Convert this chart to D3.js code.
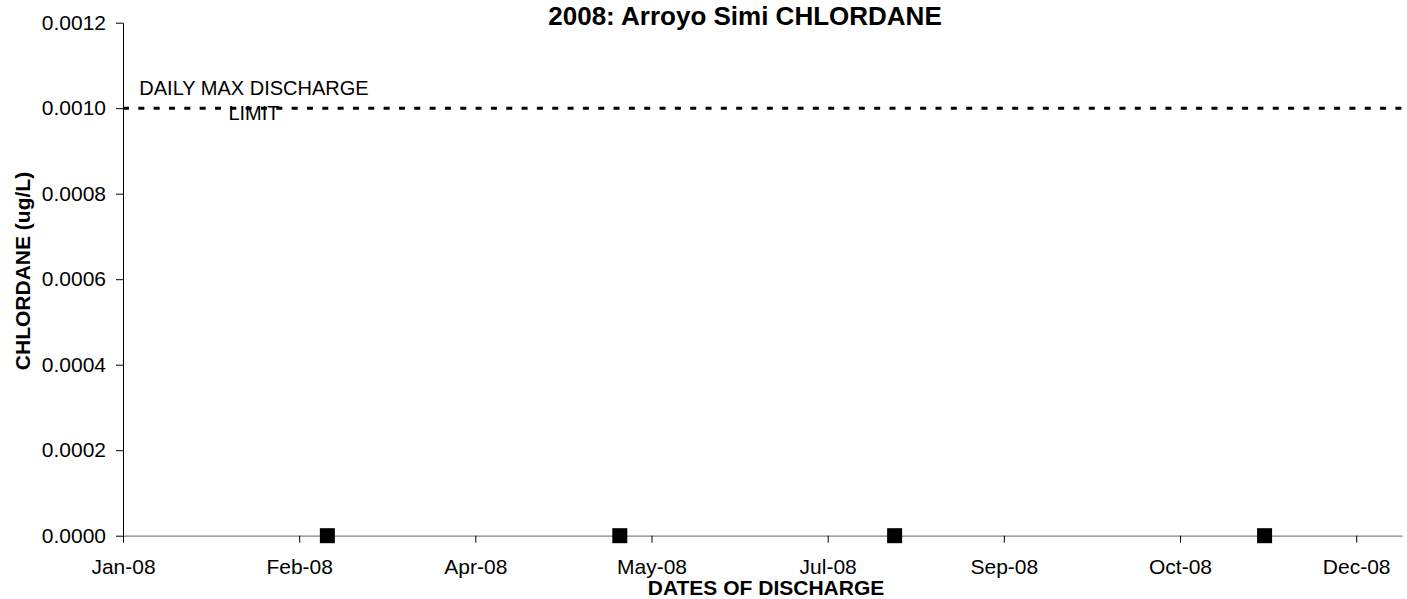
<!DOCTYPE html>
<html>
<head>
<meta charset="utf-8">
<script src="https://cdn.jsdelivr.net/npm/d3@7"></script>
<style>
  html, body { margin: 0; padding: 0; background: #fff; }
  svg { display: block; font-family: "Liberation Sans", Arial, sans-serif; }
</style>
</head>
<body>
<svg id="chart" width="1407" height="599"></svg>
<script>
// ---- data ----
const sampleDates = ["2008-02-28", "2008-05-21", "2008-08-07", "2008-11-20"];
const chlordaneValues = [0, 0, 0, 0];
const limitValue = 0.001;
const yTickValues = [0, 0.0002, 0.0004, 0.0006, 0.0008, 0.0010, 0.0012];
const xTickLabels = ["Jan-08", "Feb-08", "Apr-08", "May-08", "Jul-08", "Sep-08", "Oct-08", "Dec-08"];
const xStart = "2008-01-01";
const xEnd = "2008-12-29";
const tickStepDays = 50;

const parse = d3.timeParse("%Y-%m-%d");
const svg = d3.select("#chart");

const plotLeft = 123, plotRight = 1402, plotTop = 22.7, plotBottom = 535.7;

const x = d3.scaleTime().domain([parse(xStart), parse(xEnd)]).range([plotLeft, plotRight]);
const y = d3.scaleLinear().domain([0, 0.0012]).range([plotBottom, plotTop]);

const xTickDates = xTickLabels.map((_, i) => d3.timeDay.offset(parse(xStart), tickStepDays * i));

// x axis
const xAxis = svg.append("g")
  .attr("transform", `translate(0,${y(0)})`)
  .call(d3.axisBottom(x).tickValues(xTickDates)
    .tickFormat((d, i) => xTickLabels[i])
    .tickSize(7).tickSizeOuter(0).tickPadding(16));
xAxis.select(".domain").attr("stroke", "#808080").attr("stroke-width", 1.3);
xAxis.selectAll(".tick line").attr("stroke", "#000");
xAxis.selectAll("text").attr("font-size", 21).attr("fill", "#000")
  .attr("font-family", "Liberation Sans, Arial, sans-serif");

// y axis
const yAxis = svg.append("g")
  .attr("transform", `translate(${plotLeft},0)`)
  .call(d3.axisLeft(y).tickValues(yTickValues).tickFormat(d3.format(".4f"))
    .tickSize(7).tickSizeOuter(0).tickPadding(10));
yAxis.select(".domain").attr("stroke", "#000");
yAxis.selectAll(".tick line").attr("stroke", "#000");
yAxis.selectAll("text").attr("font-size", 21).attr("fill", "#000")
  .attr("font-family", "Liberation Sans, Arial, sans-serif");

// limit line
svg.append("line")
  .attr("x1", x(parse(xStart))).attr("x2", x(parse(xEnd)))
  .attr("y1", y(limitValue)).attr("y2", y(limitValue))
  .attr("stroke", "#000").attr("stroke-width", 3)
  .attr("stroke-dasharray", "6,9.33");

// limit label
const lbl = svg.append("text")
  .attr("text-anchor", "middle").attr("font-size", 20).attr("fill", "#000");
lbl.append("tspan").attr("x", 254).attr("y", 95).text("DAILY MAX DISCHARGE");
lbl.append("tspan").attr("x", 254).attr("y", 120).text("LIMIT");

// markers
const pts = sampleDates.map((d, i) => ({ date: parse(d), value: chlordaneValues[i] }));
svg.append("g").selectAll("rect").data(pts).join("rect")
  .attr("x", d => x(d.date) - 7.5)
  .attr("y", d => y(d.value) - 7.5)
  .attr("width", 15).attr("height", 15)
  .attr("fill", "#000");

// title
svg.append("text").attr("x", 745).attr("y", 25)
  .attr("text-anchor", "middle").attr("font-size", 26).attr("font-weight", "bold")
  .text("2008: Arroyo Simi CHLORDANE");

// axis titles
svg.append("text").attr("x", 766).attr("y", 595)
  .attr("text-anchor", "middle").attr("font-size", 21).attr("font-weight", "bold")
  .text("DATES OF DISCHARGE");

svg.append("text")
  .attr("transform", "translate(30,271) rotate(-90)")
  .attr("text-anchor", "middle").attr("font-size", 21).attr("font-weight", "bold")
  .text("CHLORDANE (ug/L)");
</script>
</body>
</html>
